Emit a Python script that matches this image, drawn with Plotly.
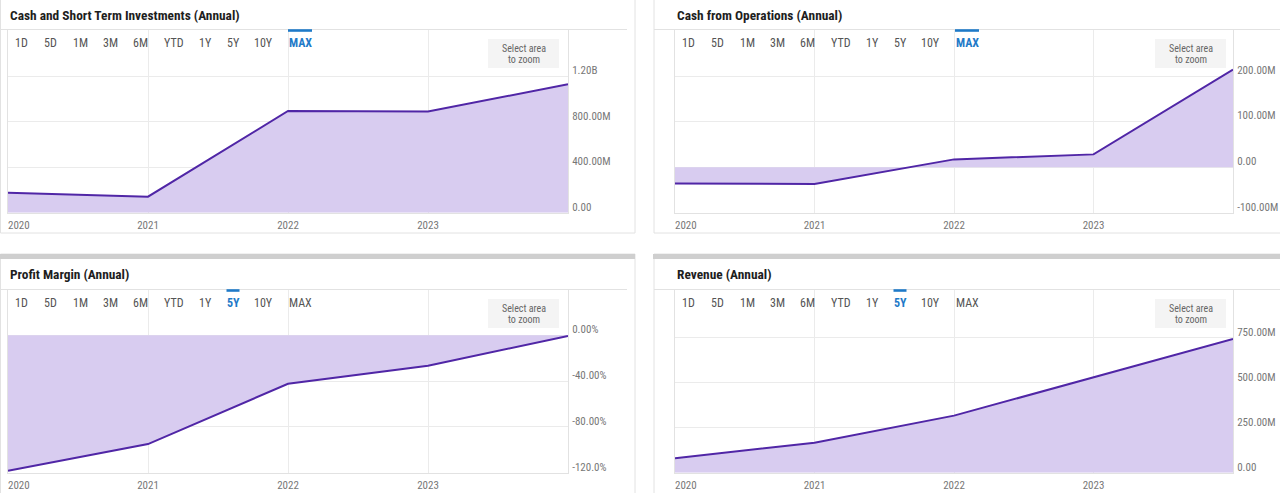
import plotly.graph_objects as go

W, H = 1280, 493

# ---------------- data ----------------
years = [2020, 2021, 2022, 2023, 2024]
x_tick_years = [2020, 2021, 2022, 2023]
x_tick_labels = ["2020", "2021", "2022", "2023"]

cash_st_inv = [176e6, 141e6, 894e6, 890e6, 1129e6]
cash_from_ops = [-36e6, -37e6, 17e6, 28e6, 214e6]
profit_margin = [-118.4, -95.0, -42.4, -26.6, -0.6]
revenue = [80e6, 167e6, 317e6, 530e6, 743e6]

titles = [
    "Cash and Short Term Investments (Annual)",
    "Cash from Operations (Annual)",
    "Profit Margin (Annual)",
    "Revenue (Annual)",
]

cash_ticks = [0, 400e6, 800e6, 1200e6]
cash_tick_text = ["0.00", "400.00M", "800.00M", "1.20B"]
cfo_ticks = [-100e6, 0, 100e6, 200e6]
cfo_tick_text = ["-100.00M", "0.00", "100.00M", "200.00M"]
pm_ticks = [-120, -80, -40, 0]
pm_tick_text = ["-120.0%", "-80.00%", "-40.00%", "0.00%"]
rev_ticks = [0, 250e6, 500e6, 750e6]
rev_tick_text = ["0.00", "250.00M", "500.00M", "750.00M"]

range_buttons = ["1D", "5D", "1M", "3M", "6M", "YTD", "1Y", "5Y", "10Y", "MAX"]
active_buttons = ["MAX", "MAX", "5Y", "5Y"]

# ---------------- styling ----------------
COND = "'Roboto Condensed', 'Liberation Sans Narrow', 'DejaVu Sans Condensed', 'Arial Narrow', Roboto, sans-serif"
LINE = "#5026a6"
FILL = "rgba(216, 204, 240, 1)"
GRID = "#ebebeb"
BORDER = "#e2e2e2"
TICKC = "#777777"
BLUE = "#1f7ac8"


def X(px):
    return px / W


def Y(py):
    return 1 - py / H


panels = [
    dict(left=8, right=568, top=30, bottom=212.7, yr=[0, 1606e6], y=cash_st_inv,
         tv=cash_ticks, tt=cash_tick_text),
    dict(left=675, right=1233, top=30, bottom=212.7, yr=[-100e6, 301e6], y=cash_from_ops,
         tv=cfo_ticks, tt=cfo_tick_text),
    dict(left=8, right=568, top=290, bottom=472.7, yr=[-120, 39.5], y=profit_margin,
         tv=pm_ticks, tt=pm_tick_text),
    dict(left=675, right=1233, top=290, bottom=472.7, yr=[0, 1015e6], y=revenue,
         tv=rev_ticks, tt=rev_tick_text),
]

fig = go.Figure()
layout = dict(
    width=W, height=H,
    margin=dict(l=0, r=0, t=0, b=0, autoexpand=False),
    paper_bgcolor="white", plot_bgcolor="rgba(0,0,0,0)",
    showlegend=False,
    font=dict(family=COND, color=TICKC),
    hovermode=False,
)
shapes = []
annotations = []

# card frames
cards = [
    dict(x0=0.5, x1=635, y0=-5, y1=233, bar=False),
    dict(x0=654, x1=1290, y0=-5, y1=233, bar=False),
    dict(x0=0.5, x1=635, y0=254, y1=500, bar=True),
    dict(x0=654, x1=1290, y0=254, y1=500, bar=True),
]
for c in cards:
    shapes.append(dict(type="rect", xref="paper", yref="paper", layer="below",
                       x0=X(c["x0"]), x1=X(c["x1"]), y0=Y(c["y1"]), y1=Y(c["y0"]),
                       line=dict(color=BORDER, width=1), fillcolor="white"))
    if c["bar"]:
        shapes.append(dict(type="rect", xref="paper", yref="paper", layer="below",
                           x0=X(c["x0"] - 1), x1=X(c["x1"]), y0=Y(c["y0"] + 5), y1=Y(c["y0"]),
                           line=dict(width=0), fillcolor="#cfcfcf"))

for i, p in enumerate(panels):
    n = i + 1
    xa = "x" if n == 1 else f"x{n}"
    ya = "y" if n == 1 else f"y{n}"
    xo = n + 4  # overlay axis for first tick label
    xdom = [X(p["left"]), X(p["right"])]
    ydom = [Y(p["bottom"]), Y(p["top"])]

    fig.add_trace(go.Scatter(
        x=years, y=p["y"], xaxis=xa, yaxis=ya, mode="lines",
        line=dict(color=LINE, width=2), fill="tozeroy", fillcolor=FILL,
        hoverinfo="skip"))

    layout[f"xaxis{'' if n == 1 else n}"] = dict(
        domain=xdom, anchor=ya, range=[years[0], years[-1]],
        tickvals=x_tick_years[1:], ticktext=x_tick_labels[1:],
        showgrid=True, gridcolor=GRID, gridwidth=1, zeroline=False,
        showline=True, linecolor=BORDER, mirror=True, automargin=False,
        ticks="", tickfont=dict(size=11, color=TICKC, family=COND),
        ticklabelstandoff=2, fixedrange=True)
    layout[f"xaxis{xo}"] = dict(
        domain=xdom, anchor=ya, overlaying=xa, range=[years[0], years[-1]],
        tickvals=x_tick_years[:1], ticktext=x_tick_labels[:1],
        ticklabelposition="outside right", automargin=False,
        showgrid=False, zeroline=False, showline=False,
        ticks="", tickfont=dict(size=11, color=TICKC, family=COND),
        ticklabelstandoff=4, fixedrange=True)
    layout[f"yaxis{'' if n == 1 else n}"] = dict(
        domain=ydom, anchor=xa, side="right", range=p["yr"],
        tickvals=p["tv"], ticktext=p["tt"],
        showgrid=True, gridcolor=GRID, gridwidth=1, zeroline=False,
        showline=True, linecolor=BORDER, mirror=True, automargin=False,
        ticks="", tickfont=dict(size=11, color=TICKC, family=COND),
        ticklabelstandoff=1, ticklabelshift=-6, fixedrange=True)

    # invisible helper trace so overlay axis is drawn
    fig.add_trace(go.Scatter(x=years[:1], y=p["y"][:1], xaxis=f"x{xo}", yaxis=ya,
                             mode="markers", marker=dict(opacity=0), hoverinfo="skip"))

    card_left = p["left"] - 8
    title_y = 15 if n <= 2 else 274
    header_y = 29.5 if n <= 2 else 289.5
    btn_y = 43 if n <= 2 else 303

    # title
    annotations.append(dict(xref="paper", yref="paper", x=X(card_left + 8), y=Y(title_y),
                            xanchor="left", yanchor="middle", showarrow=False,
                            text=f"<b>{titles[i]}</b>",
                            font=dict(size=13.4, color="#1e1e1e", family=COND)))
    # header separator
    shapes.append(dict(type="line", xref="paper", yref="paper", layer="below",
                       x0=X(card_left if card_left == 0 else card_left - 13),
                       x1=X(card_left + 627 if card_left == 0 else 1290),
                       y0=Y(header_y), y1=Y(header_y),
                       line=dict(color=BORDER, width=1)))

    # range buttons
    centers = [21.5, 50.5, 80, 110, 140.5, 173.5, 205, 233, 263, 300]
    for lab, cx in zip(range_buttons, centers):
        active = lab == active_buttons[i]
        annotations.append(dict(
            xref="paper", yref="paper", x=X(card_left + cx), y=Y(btn_y),
            xanchor="center", yanchor="middle", showarrow=False,
            text=f"<b>{lab}</b>" if active else lab,
            font=dict(size=12, color=BLUE if active else "#555555", family=COND)))
        if active:
            hw = 12 if lab == "MAX" else 6.5
            shapes.append(dict(type="rect", xref="paper", yref="paper",
                               x0=X(card_left + cx - hw), x1=X(card_left + cx + hw),
                               y0=Y(header_y + 2.3), y1=Y(header_y - 0.3),
                               line=dict(width=0), fillcolor=BLUE))

    # select area box
    bx0, bx1 = card_left + 488, card_left + 559
    by0 = 39 if n <= 2 else 299
    shapes.append(dict(type="rect", xref="paper", yref="paper",
                       x0=X(bx0), x1=X(bx1), y0=Y(by0 + 29), y1=Y(by0),
                       line=dict(width=0), fillcolor="#f4f4f4"))
    for k, t in enumerate(["Select area", "to zoom"]):
        annotations.append(dict(xref="paper", yref="paper", x=X((bx0 + bx1) / 2),
                                y=Y(by0 + 9 + 11.5 * k), xanchor="center", yanchor="middle",
                                showarrow=False, text=t,
                                font=dict(size=10, color="#666666", family=COND)))

layout["shapes"] = shapes
layout["annotations"] = annotations
fig.update_layout(**layout)

# remove the default page margin so the 1280x493 figure fills the window exactly
post = (
    "document.documentElement.style.margin='0';"
    "document.documentElement.style.overflow='hidden';"
    "document.body.style.margin='0';"
    "document.body.style.padding='0';"
    "document.body.style.overflow='hidden';"
)

fig.write_html("out.html", config={"displayModeBar": False}, post_script=post)
